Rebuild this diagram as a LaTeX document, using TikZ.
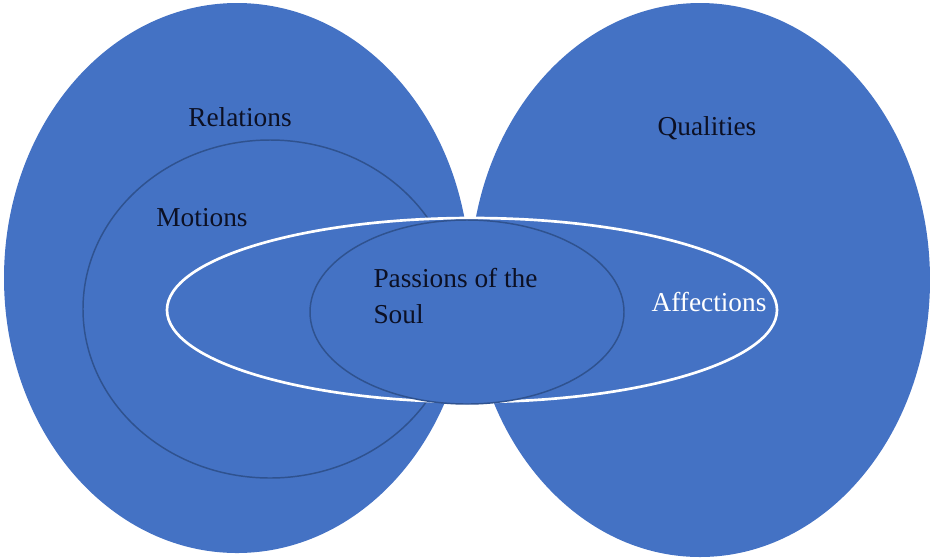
\documentclass[tikz,border=0pt]{standalone}
\usepackage{fontspec}
\setmainfont{Liberation Serif}

\definecolor{setblue}{RGB}{68,114,196}
\definecolor{rimblue}{RGB}{47,82,143}
\definecolor{inkblue}{RGB}{12,16,36}

\tikzset{every picture/.style={line width=0.75pt}}
\tikzset{
  bigset/.style={fill=setblue},
  innerset/.style={draw=rimblue, line width=1.1pt},
  whiteset/.style={fill=setblue, draw=white, line width=2pt},
  setname/.style={inner sep=0.75pt, font=\fontsize{20.5}{27.5}\selectfont, text=inkblue},
}

\begin{document}
\begin{tikzpicture}[x=0.75pt,y=0.75pt,yscale=-1,xscale=1]
    \useasboundingbox (0,0) rectangle (930,558);

    %Shape: Ellipse [left set]
    \fill [bigset] (237,278) ellipse [x radius=233, y radius=275];
    %Shape: Ellipse [right set]
    \fill [bigset] (700,280) ellipse [x radius=230, y radius=277];

    %Shape: Ellipse [motions ring]
    \draw [innerset] (270,309) ellipse [x radius=187, y radius=169];

    %Shape: Ellipse [affections band]
    \draw [whiteset] (472,310) ellipse [x radius=305, y radius=92];

    %Shape: Ellipse [passions core]
    \draw [innerset, fill=setblue] (467,312) ellipse [x radius=157, y radius=92];

    % Text Node
    \node [setname] (relations) at (240,117) {Relations};
    % Text Node
    \node [setname] (qualities) at (707,128) {Qualities};
    % Text Node
    \node [setname] (motions) at (202,218) {Motions};
    % Text Node
    \node [setname, anchor=west, align=left] (passions) at (372,296) {Passions of the\\Soul};
    % Text Node
    \node [setname, text=white] (affections) at (709,302) {Affections};
\end{tikzpicture}
\end{document}
